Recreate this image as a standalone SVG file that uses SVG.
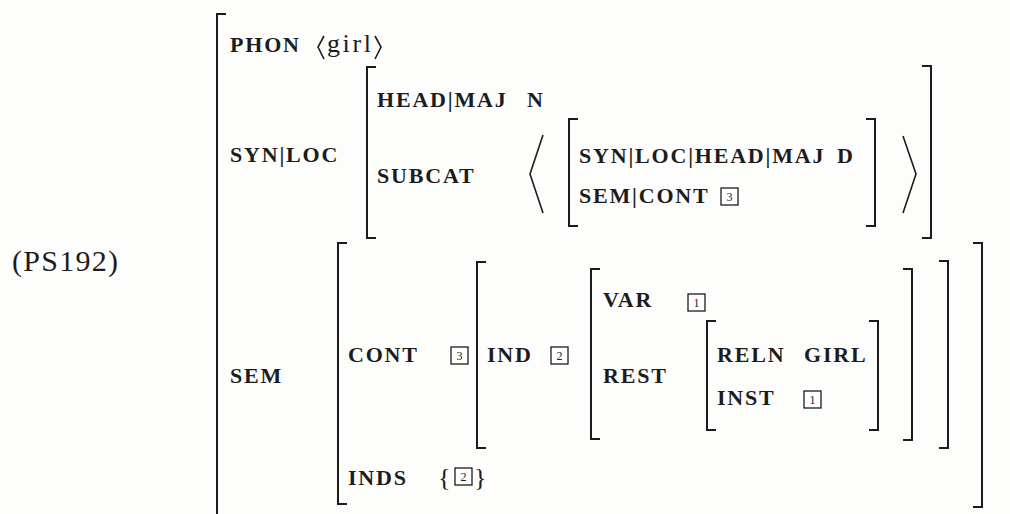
<svg xmlns="http://www.w3.org/2000/svg" width="1010" height="514" viewBox="0 0 1010 514">
<style>
.k{font-family:"Liberation Serif","Times New Roman",serif;font-size:22px;font-weight:bold;letter-spacing:1.8px;fill:#1c1c1c}
.r{font-family:"Liberation Serif","Times New Roman",serif;fill:#1c1c1c}
.b{fill:none;stroke:#1c1c1c;stroke-width:2;stroke-linecap:square}
.a{fill:none;stroke:#1c1c1c;stroke-width:1.6}
.t{fill:#fff;stroke:#1c1c1c;stroke-width:1.3}
.n{font-family:"Liberation Serif","Times New Roman",serif;font-size:12px;fill:#1c1c1c;text-anchor:middle}
</style>
<rect width="1010" height="514" fill="#fdfdfc"/>
<text class="r" x="12" y="271" font-size="30" textLength="106">(PS192)</text>
<g id="brackets">
<path class="b" d="M225 14H217V514"/>
<path class="b" d="M375 67H367V238H375"/>
<path class="b" d="M923 66H931V238H923"/>
<path class="a" d="M543 135L530 174L543 213"/>
<path class="a" d="M903 136L916 174L903 213"/>
<path class="b" d="M577 119H569V226H577"/>
<path class="b" d="M867 119H875V226H867"/>
<path class="b" d="M346 243H338V504H346"/>
<path class="b" d="M974 243H982V507H974"/>
<path class="b" d="M485 262H477V448H485"/>
<path class="b" d="M940 261H948V448H940"/>
<path class="b" d="M599 269H591V439H599"/>
<path class="b" d="M904 269H912V440H904"/>
<path class="b" d="M715 321H707V430H715"/>
<path class="b" d="M870 321H878V430H870"/>
</g>
<g id="phon">
<text class="k" x="230" y="52">PHON</text>
<path class="a" d="M324 36L318 47L324 59"/>
<text class="r" x="327" y="52" font-size="26" textLength="44">girl</text>
<path class="a" d="M375 36L381 47L375 59"/>
</g>
<g id="synloc">
<text class="k" x="230" y="162">SYN|LOC</text>
<text class="k" x="377" y="107">HEAD|MAJ</text>
<text class="k" x="527" y="107">N</text>
<text class="k" x="377" y="183">SUBCAT</text>
<text class="k" x="579" y="163">SYN|LOC|HEAD|MAJ</text>
<text class="k" x="837" y="163">D</text>
<text class="k" x="579" y="203">SEM|CONT</text>
<rect class="t" x="721" y="188" width="17" height="17"/><text class="n" x="729.5" y="201">3</text>
</g>
<g id="sem">
<text class="k" x="230" y="383">SEM</text>
<text class="k" x="348" y="362">CONT</text>
<rect class="t" x="451" y="347" width="17" height="17"/><text class="n" x="459.5" y="360">3</text>
<text class="k" x="487" y="362">IND</text>
<rect class="t" x="551" y="347" width="17" height="17"/><text class="n" x="559.5" y="360">2</text>
<text class="k" x="603" y="307">VAR</text>
<rect class="t" x="688" y="294" width="17" height="17"/><text class="n" x="696.5" y="307">1</text>
<text class="k" x="603" y="383">REST</text>
<text class="k" x="717" y="362">RELN</text>
<text class="k" x="804" y="362">GIRL</text>
<text class="k" x="717" y="405">INST</text>
<rect class="t" x="804" y="391" width="17" height="17"/><text class="n" x="812.5" y="404">1</text>
<text class="k" x="348" y="485">INDS</text>
<text class="r" x="438" y="486" font-size="26">{</text>
<rect class="t" x="455" y="468" width="17" height="17"/><text class="n" x="463.5" y="481">2</text>
<text class="r" x="474" y="486" font-size="26">}</text>
</g>
</svg>
